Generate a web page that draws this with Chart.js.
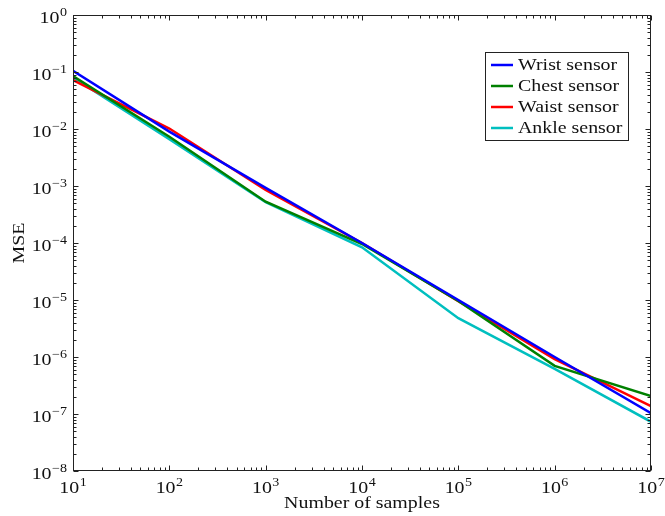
<!DOCTYPE html>
<html>
<head>
<meta charset="utf-8">
<style>
  html, body { margin: 0; padding: 0; background: #fff; }
  #wrap { width: 665px; height: 516px; }
</style>
<script src="https://cdn.jsdelivr.net/npm/chart.js@4.4.1/dist/chart.umd.min.js"></script>
</head>
<body>
<div id="wrap"><canvas id="c" width="665" height="516"></canvas></div>
<script>
// Sample counts (x) and mean squared error per sensor position (y)
const xSamples  = [1e1, 1e2, 1e3, 1e4, 1e5, 1e6, 1e7];
const wristMSE  = [0.105, 0.0090, 9.3e-4, 1.0e-4, 1.0e-5, 1.0e-6, 1.03e-7];
const chestMSE  = [0.085, 0.0073, 5.3e-4, 9.6e-5, 9.6e-6, 7.0e-7, 2.07e-7];
const waistMSE  = [0.072, 0.0102, 8.5e-4, 1.0e-4, 9.5e-6, 9.2e-7, 1.38e-7];
const ankleMSE  = [0.080, 0.0066, 5.2e-4, 8.4e-5, 4.8e-6, 6.2e-7, 7.3e-8];
const seriesNames = ['Wrist sensor', 'Chest sensor', 'Waist sensor', 'Ankle sensor'];
const seriesColors = ['#0000ff', '#008000', '#ff0000', '#00bfbf'];

// Axis decades (exponents of ten)
const xDecades = [1, 2, 3, 4, 5, 6, 7];
const yDecades = [-8, -7, -6, -5, -4, -3, -2, -1, 0];
const xTitle = 'Number of samples';
const yTitle = 'MSE';

const FONT = '"Liberation Serif", "Times New Roman", serif';
const SX = 1.17; // horizontal stretch for a rounder, book-style face

function toPoints(ys) {
  return xSamples.map((x, i) => ({ x: x, y: ys[i] }));
}

const allSeries = [wristMSE, chestMSE, waistMSE, ankleMSE];

// Text helpers: draw with horizontal stretch
function textWidth(ctx, s) { return ctx.measureText(s).width * SX; }
function fillStretched(ctx, s, x, y) {
  ctx.save();
  ctx.translate(x, y);
  ctx.scale(SX, 1);
  ctx.textAlign = 'left';
  ctx.fillText(s, 0, 0);
  ctx.restore();
}

// Draws "10" with a raised exponent; align is 'center' or 'right'
function drawPow(ctx, exp, x, y, align) {
  const base = '10';
  const sup = exp < 0 ? '\u2212' + Math.abs(exp) : String(exp);
  ctx.font = '17px ' + FONT;
  const wb = textWidth(ctx, base);
  ctx.font = '12px ' + FONT;
  const ws = textWidth(ctx, sup);
  const total = wb + ws + 0.5;
  const left = align === 'right' ? x - total : x - total / 2;
  ctx.textBaseline = 'alphabetic';
  ctx.font = '17px ' + FONT;
  fillStretched(ctx, base, left, y);
  ctx.font = '12px ' + FONT;
  fillStretched(ctx, sup, left + wb + 0.5, y - 7);
}

const framePlugin = {
  id: 'frameAndTicks',
  afterDraw(chart) {
    const ctx = chart.ctx;
    const a = chart.chartArea;
    const xs = chart.scales.x, ys = chart.scales.y;
    ctx.save();
    ctx.fillStyle = '#222';
    ctx.strokeStyle = '#222';
    ctx.lineWidth = 1;

    // frame
    const L = Math.round(a.left) + 0.5, R = Math.round(a.right) - 0.5;
    const T = Math.round(a.top) + 0.5, B = Math.round(a.bottom) - 0.5;
    ctx.strokeRect(L, T, R - L, B - T);

    ctx.beginPath();
    // x ticks, bottom and top, pointing inward
    xDecades.forEach((e, i) => {
      for (let m = 1; m <= 9; m++) {
        if (m > 1 && i === xDecades.length - 1) break;
        const px = Math.round(xs.getPixelForValue(m * Math.pow(10, e))) + 0.5;
        const len = m === 1 ? 5 : 3;
        ctx.moveTo(px, B); ctx.lineTo(px, B - len);
        ctx.moveTo(px, T); ctx.lineTo(px, T + len);
      }
    });
    // y ticks, left and right, pointing inward
    yDecades.forEach((e, i) => {
      for (let m = 1; m <= 9; m++) {
        if (m > 1 && i === yDecades.length - 1) break;
        const py = Math.round(ys.getPixelForValue(m * Math.pow(10, e))) + 0.5;
        const len = m === 1 ? 5 : 3;
        ctx.moveTo(L, py); ctx.lineTo(L + len, py);
        ctx.moveTo(R, py); ctx.lineTo(R - len, py);
      }
    });
    ctx.stroke();

    // tick labels
    ctx.fillStyle = '#111';
    xDecades.forEach(e => {
      const px = xs.getPixelForValue(Math.pow(10, e));
      drawPow(ctx, e, px, a.bottom + 21.5, 'center');
    });
    yDecades.forEach(e => {
      const py = ys.getPixelForValue(Math.pow(10, e));
      drawPow(ctx, e, a.left - 6, py + 8, 'right');
    });

    // axis titles
    ctx.font = '17px ' + FONT;
    ctx.textBaseline = 'middle';
    const tw = textWidth(ctx, xTitle);
    fillStretched(ctx, xTitle, (a.left + a.right) / 2 - tw / 2, a.bottom + 33);
    ctx.save();
    ctx.translate(20, (a.top + a.bottom) / 2);
    ctx.rotate(-Math.PI / 2);
    fillStretched(ctx, yTitle, -textWidth(ctx, yTitle) / 2, 0);
    ctx.restore();

    // legend box
    const bx = 485.5, by = 52.5, bw = 143, bh = 88;
    ctx.fillStyle = '#fff';
    ctx.fillRect(bx, by, bw, bh);
    ctx.strokeStyle = '#222';
    ctx.lineWidth = 1;
    ctx.strokeRect(bx, by, bw, bh);
    ctx.font = '17px ' + FONT;
    ctx.textBaseline = 'middle';
    chart.data.datasets.forEach((ds, i) => {
      const ry = 65 + i * 21;
      ctx.strokeStyle = ds.borderColor;
      ctx.lineWidth = 2.5;
      ctx.beginPath();
      ctx.moveTo(491, ry); ctx.lineTo(513, ry);
      ctx.stroke();
      ctx.fillStyle = '#111';
      fillStretched(ctx, ds.label, 518, ry + 1);
    });
    ctx.restore();
  }
};

new Chart(document.getElementById('c'), {
  type: 'line',
  data: {
    datasets: allSeries.map((ys, i) => ({
      label: seriesNames[i],
      data: toPoints(ys),
      borderColor: seriesColors[i],
      backgroundColor: seriesColors[i],
      borderWidth: 2.5,
      pointRadius: 0,
      tension: 0,
      fill: false
    }))
  },
  options: {
    responsive: false,
    animation: false,
    devicePixelRatio: 1,
    layout: { padding: { left: 73, right: 14, top: 15, bottom: 45 } },
    plugins: { legend: { display: false }, tooltip: { enabled: false } },
    scales: {
      x: { type: 'logarithmic', min: 1e1, max: 1e7, display: false },
      y: { type: 'logarithmic', min: 1e-8, max: 1e0, display: false }
    }
  },
  plugins: [framePlugin]
});
</script>
</body>
</html>
